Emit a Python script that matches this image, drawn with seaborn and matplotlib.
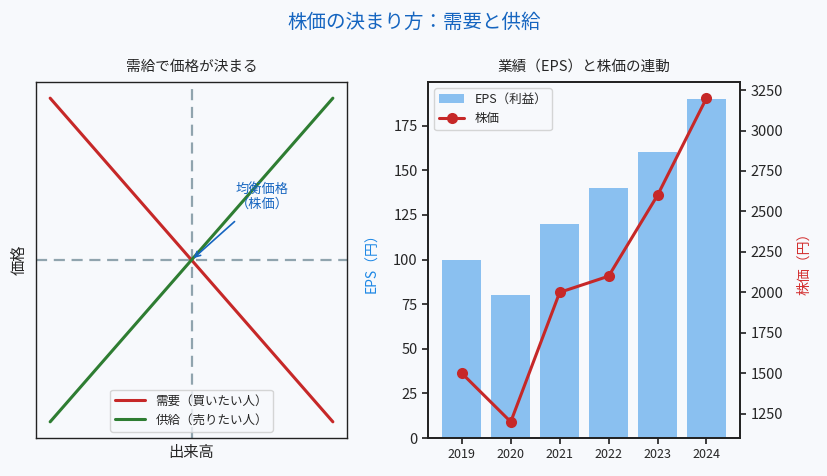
import numpy as np
import pandas as pd
import matplotlib
matplotlib.use("Agg")
import matplotlib.pyplot as plt
import seaborn as sns

# ---- data ----
qty = [0, 10]
demand = [10, 0]
supply = [0, 10]
eq_x, eq_y = 5, 5

years = ["2019", "2020", "2021", "2022", "2023", "2024"]
eps = [100, 80, 120, 140, 160, 190]
price = [1500, 1200, 2000, 2100, 2600, 3200]

sns.set_theme(style="white")
plt.rcParams['font.family'] = ['Noto Sans CJK JP', 'DejaVu Sans']
bg = '#f7f9fc'
plt.rcParams['figure.facecolor'] = bg
plt.rcParams['axes.facecolor'] = bg
plt.rcParams['axes.edgecolor'] = '#222222'

fig = plt.figure(figsize=(8.28, 4.76), dpi=100)
ax1 = fig.add_axes([0.0435, 0.0798, 0.3756, 0.748])
ax = fig.add_axes([0.517, 0.0798, 0.377, 0.748])

# ---- left: supply & demand ----
dfd = pd.DataFrame({"q": qty, "p": demand})
dfs = pd.DataFrame({"q": qty, "p": supply})
sns.lineplot(data=dfd, x="q", y="p", ax=ax1, color='#c62828', lw=2.2, label='需要（買いたい人）')
sns.lineplot(data=dfs, x="q", y="p", ax=ax1, color='#2e7d32', lw=2.2, label='供給（売りたい人）')
ax1.axvline(eq_x, color='#90a4ae', ls='--', lw=1.6, dashes=(5, 3), zorder=0)
ax1.axhline(eq_y, color='#90a4ae', ls='--', lw=1.6, dashes=(5, 3), zorder=0)
ax1.annotate('均衡価格\n（株価）', xy=(eq_x, eq_y), xytext=(7.5, 6.95),
             ha='center', va='center', color='#1565c0', fontsize=9.5,
             arrowprops=dict(arrowstyle='->', color='#1565c0', lw=1.2,
                             shrinkA=8, shrinkB=2))
ax1.set_xticks([])
ax1.set_yticks([])
ax1.set_xlabel('出来高', fontsize=11, labelpad=4)
ax1.set_ylabel('価格', fontsize=11, labelpad=6)
ax1.set_title('需給で価格が決まる', fontsize=10.5, pad=8)
leg1 = ax1.legend(loc='lower center', fontsize=9, frameon=True, handlelength=2.4)
leg1.get_frame().set_edgecolor('#cccccc')
for s in ax1.spines.values():
    s.set_linewidth(1.0)

# ---- right: EPS & price ----
pos = np.arange(len(years))
dfe = pd.DataFrame({"year": years, "eps": eps})
sns.barplot(data=dfe, x="year", y="eps", ax=ax, color='#1e88e5', alpha=0.5,
            width=0.8, saturation=1, label='EPS（利益）', edgecolor='none', linewidth=0)
ax.set_ylabel('EPS（円）', color='#1e88e5', fontsize=10, labelpad=10)
ax.set_xlabel('')
ax.tick_params(axis='x', labelsize=9, length=4, bottom=True)
ax.tick_params(axis='y', labelsize=10.5, length=4, left=True)
ax.set_title('業績（EPS）と株価の連動', fontsize=10.5, pad=8)

ax2 = ax.twinx()
dfp = pd.DataFrame({"x": pos, "price": price})
sns.lineplot(data=dfp, x="x", y="price", ax=ax2, color='#c62828', lw=2.2,
             marker='o', markersize=8, markeredgewidth=0, label='株価')
ax2.set_ylabel('株価（円）', color='#d32f2f', fontsize=10, labelpad=10)
ax2.tick_params(axis='y', labelsize=10.5, length=4, right=True)
ax2.margins(y=0.05)
if ax2.get_legend():
    ax2.get_legend().remove()
if ax.get_legend():
    ax.get_legend().remove()

h1, l1 = ax.get_legend_handles_labels()
h2, l2 = ax2.get_legend_handles_labels()
leg2 = ax.legend(h1 + h2, l1 + l2, loc='upper left', fontsize=9, frameon=True)
leg2.get_frame().set_edgecolor('#cccccc')

fig.suptitle('株価の決まり方：需要と供給', color='#1565c0', fontsize=14, y=0.975)
fig.savefig('out.png', dpi=100, facecolor=bg)
